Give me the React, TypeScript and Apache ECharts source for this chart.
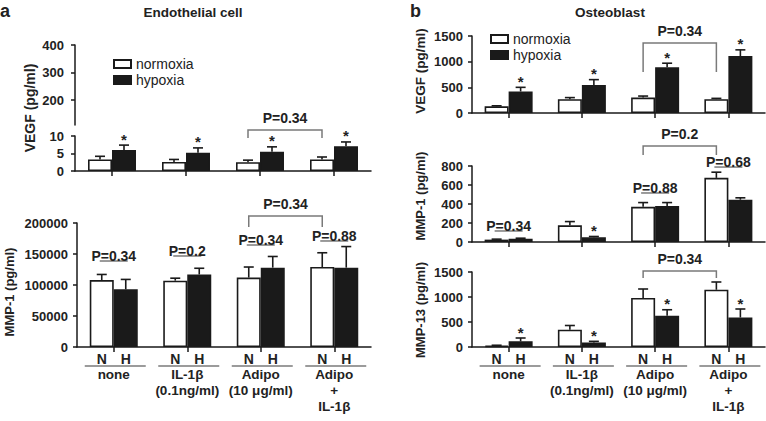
import React, { useEffect, useRef } from 'react';
import * as echarts from 'echarts';

const FONT = "'Liberation Sans', Arial, Helvetica, sans-serif";

const groupLabels = ['none', 'IL-1β\n(0.1ng/ml)', 'Adipo\n(10 μg/ml)', 'Adipo\n+\nIL-1β'];
const conditionLabels = ['N', 'H'];
const seriesNames = ['normoxia', 'hypoxia'];

// Panel a – Endothelial cell
const aVegfUpperTicks = [200, 300, 400];
const aVegfN = [3.3, 2.6, 2.5, 3.3];
const aVegfNErr = [4.2, 3.3, 3.1, 4.0];
const aVegfH = [6.0, 5.2, 5.5, 7.1];
const aVegfHErr = [7.4, 6.6, 6.9, 8.3];
const aVegfStars = [1, 1, 1, 1];
const aVegfBracket = [2, 3, 11.7, 9.4];
const aVegfBracketText = 'P=0.34';

const aMmp1N = [108000, 107000, 112000, 129000];
const aMmp1NErr = [117000, 111000, 129000, 152000];
const aMmp1H = [93000, 117000, 128000, 128000];
const aMmp1HErr = [109000, 127000, 146000, 162000];
const aMmp1Stars = [0, 0, 0, 0];
const aMmp1PGroups = [0, 1, 2, 3];
const aMmp1PLevels = [138700, 146800, 164500, 171000];
const aMmp1PTexts = ['P=0.34', 'P=0.2', 'P=0.34', 'P=0.88'];
const aMmp1Bracket = [2, 3, 211300, 193500];
const aMmp1BracketText = 'P=0.34';

// Panel b – Osteoblast
const bVegfN = [130, 270, 300, 270];
const bVegfNErr = [140, 300, 330, 285];
const bVegfH = [420, 545, 890, 1110];
const bVegfHErr = [500, 650, 970, 1230];
const bVegfStars = [1, 1, 1, 1];
const bVegfBracket = [2, 3, 1364, 800];
const bVegfBracketText = 'P=0.34';

const bMmp1N = [25, 176, 370, 675];
const bMmp1NErr = [30, 215, 415, 735];
const bMmp1H = [35, 50, 380, 445];
const bMmp1HErr = [40, 58, 415, 465];
const bMmp1Stars = [0, 1, 0, 0];
const bMmp1PGroups = [0, 2, 3];
const bMmp1PLevels = [116, 516, 789];
const bMmp1PTexts = ['P=0.34', 'P=0.88', 'P=0.68'];
const bMmp1Bracket = [2, 3, 1010, 916];
const bMmp1BracketText = 'P=0.2';

const bMmp13N = [27, 345, 980, 1145];
const bMmp13NErr = [35, 430, 1160, 1300];
const bMmp13H = [113, 90, 625, 590];
const bMmp13HErr = [180, 113, 745, 760];
const bMmp13Stars = [1, 1, 1, 1];
const bMmp13Bracket = [2, 3, 1520, 1380];
const bMmp13BracketText = 'P=0.34';

const BAR_W = 24;
const HALF = BAR_W / 2;
const INK = '#1a1a1a';
const GREY = '#7a7a7a';
const P_FS = 14;

function barSeries(gi: number, vals: number[], isH: boolean) {
  return {
    type: 'bar',
    name: seriesNames[isH ? 1 : 0],
    xAxisIndex: gi,
    yAxisIndex: gi,
    data: vals,
    barWidth: BAR_W,
    barGap: '0%',
    silent: true,
    itemStyle: { color: isH ? INK : '#fff', borderColor: INK, borderWidth: 1.6 },
  };
}

function errSeries(gi: number, vals: number[], errs: number[], side: number, stars: number[]) {
  return {
    type: 'custom',
    xAxisIndex: gi,
    yAxisIndex: gi,
    silent: true,
    z: 5,
    data: vals.map((v, i) => [i, v, errs[i], stars[i]]),
    renderItem: (params: any, api: any) => {
      const i = api.value(0);
      const top = api.coord([i, api.value(1)]);
      const e = api.coord([i, api.value(2)]);
      const x = top[0] + side * HALF;
      const children: any[] = [
        { type: 'line', shape: { x1: x, y1: top[1], x2: x, y2: e[1] }, style: { stroke: INK, lineWidth: 1.6 } },
        { type: 'line', shape: { x1: x - 5, y1: e[1], x2: x + 5, y2: e[1] }, style: { stroke: INK, lineWidth: 1.6 } },
      ];
      if (api.value(3)) {
        children.push({
          type: 'text',
          x,
          y: e[1] - 6,
          style: { text: '*', font: `bold 15px ${FONT}`, fill: '#222', align: 'center', verticalAlign: 'middle' },
        });
      }
      return { type: 'group', children };
    },
  };
}

function pSeries(gi: number, groups: number[], levels: number[], texts: string[], fs: number) {
  return {
    type: 'custom',
    xAxisIndex: gi,
    yAxisIndex: gi,
    silent: true,
    z: 6,
    data: groups.map((g, k) => [g, levels[k]]),
    renderItem: (params: any, api: any) => {
      const p = api.coord([api.value(0), api.value(1)]);
      return {
        type: 'group',
        children: [
          { type: 'line', shape: { x1: p[0] - 14, y1: p[1], x2: p[0] + 14, y2: p[1] }, style: { stroke: GREY, lineWidth: 1.5 } },
          {
            type: 'text',
            x: p[0],
            y: p[1] - 5,
            style: { text: texts[params.dataIndex], font: `bold ${fs}px ${FONT}`, fill: '#222', align: 'center', verticalAlign: 'middle' },
          },
        ],
      };
    },
  };
}

function bracketSeries(gi: number, br: number[], text: string, fs: number) {
  return {
    type: 'custom',
    xAxisIndex: gi,
    yAxisIndex: gi,
    silent: true,
    z: 6,
    data: [br],
    renderItem: (params: any, api: any) => {
      const p1 = api.coord([api.value(0), api.value(2)]);
      const p2 = api.coord([api.value(1), api.value(2)]);
      const legY = api.coord([api.value(0), api.value(3)])[1];
      const x1 = p1[0] - HALF;
      const x2 = p2[0] - HALF;
      return {
        type: 'group',
        children: [
          {
            type: 'polyline',
            shape: { points: [[x1, legY], [x1, p1[1]], [x2, p1[1]], [x2, legY]] },
            style: { stroke: GREY, lineWidth: 1.5, fill: 'none' },
          },
          {
            type: 'text',
            x: (x1 + x2) / 2,
            y: p1[1] - 12,
            style: { text, font: `bold ${fs}px ${FONT}`, fill: '#222', align: 'center', verticalAlign: 'middle' },
          },
        ],
      };
    },
  };
}

function nhSeries(gi: number) {
  return {
    type: 'custom',
    xAxisIndex: gi,
    yAxisIndex: gi,
    silent: true,
    data: groupLabels.map((_, i) => [i, 0]),
    renderItem: (params: any, api: any) => {
      const p = api.coord([api.value(0), 0]);
      const ts = (t: string, x: number) => ({
        type: 'text',
        x,
        y: p[1] + 12,
        style: { text: t, font: `bold 14px ${FONT}`, fill: '#222', align: 'center', verticalAlign: 'middle' },
      });
      return {
        type: 'group',
        children: [
          ts(conditionLabels[0], p[0] - HALF),
          ts(conditionLabels[1], p[0] + HALF),
          { type: 'line', shape: { x1: p[0] - 29, y1: p[1] + 19, x2: p[0] + 32, y2: p[1] + 19 }, style: { stroke: GREY, lineWidth: 1.3 } },
        ],
      };
    },
  };
}

export default function App() {
  const ref = useRef<HTMLDivElement>(null);
  useEffect(() => {
    const chart = echarts.init(ref.current!, undefined, { renderer: 'svg' });

    const grids = [
      { left: 75, top: 45, width: 296, height: 80 },
      { left: 75, top: 136, width: 296, height: 35 },
      { left: 77, top: 223, width: 294, height: 124 },
      { left: 472, top: 36, width: 293, height: 77 },
      { left: 472, top: 166, width: 293, height: 76 },
      { left: 472, top: 272, width: 293, height: 75 },
    ].map((g) => ({ ...g, outerBoundsMode: 'none', containLabel: false }));

    const axisLine = { show: true, lineStyle: { color: INK, width: 1.5 } };
    const xAxes = grids.map((_, gi) => ({
      type: 'category',
      gridIndex: gi,
      data: groupLabels,
      show: gi !== 0,
      axisLine,
      axisTick: { show: true, alignWithLabel: true, length: 5, lineStyle: { color: INK, width: 1.5 } },
      axisLabel: {
        show: gi === 2 || gi === 5,
        interval: 0,
        margin: 19,
        lineHeight: 16,
        fontSize: 13.5,
        fontWeight: 'bold',
        color: '#222',
        fontFamily: FONT,
      },
      splitLine: { show: false },
    }));

    const yBase = (gi: number, fs: number, margin: number) => ({
      type: 'value',
      gridIndex: gi,
      splitLine: { show: false },
      axisLine,
      axisTick: { show: true, length: 4, lineStyle: { color: INK, width: 1.5 } },
      axisLabel: {
        fontSize: fs,
        fontWeight: 'bold',
        color: '#222',
        fontFamily: FONT,
        margin,
        formatter: (v: number) => String(v),
      },
    });
    const y0: any = yBase(0, 13, 11);
    y0.min = 110;
    y0.max = 400;
    y0.axisLabel.customValues = aVegfUpperTicks;
    y0.axisTick.customValues = aVegfUpperTicks;
    const yAxes = [
      y0,
      { ...yBase(1, 13, 11), min: 0, max: 10, interval: 5 },
      { ...yBase(2, 13, 9), min: 0, max: 200000, interval: 50000 },
      { ...yBase(3, 13, 9), min: 0, max: 1500, interval: 500 },
      { ...yBase(4, 13, 9), min: 0, max: 800, interval: 200 },
      { ...yBase(5, 13, 9), min: 0, max: 1500, interval: 500 },
    ];

    const panels = [
      { gi: 1, n: aVegfN, ne: aVegfNErr, h: aVegfH, he: aVegfHErr, s: aVegfStars },
      { gi: 2, n: aMmp1N, ne: aMmp1NErr, h: aMmp1H, he: aMmp1HErr, s: aMmp1Stars },
      { gi: 3, n: bVegfN, ne: bVegfNErr, h: bVegfH, he: bVegfHErr, s: bVegfStars },
      { gi: 4, n: bMmp1N, ne: bMmp1NErr, h: bMmp1H, he: bMmp1HErr, s: bMmp1Stars },
      { gi: 5, n: bMmp13N, ne: bMmp13NErr, h: bMmp13H, he: bMmp13HErr, s: bMmp13Stars },
    ];
    const series: any[] = [{ type: 'bar', xAxisIndex: 0, yAxisIndex: 0, data: [], silent: true }];
    panels.forEach((p) => {
      series.push(barSeries(p.gi, p.n, false));
      series.push(barSeries(p.gi, p.h, true));
      series.push(errSeries(p.gi, p.n, p.ne, -1, [0, 0, 0, 0]));
      series.push(errSeries(p.gi, p.h, p.he, 1, p.s));
    });
    series.push(pSeries(2, aMmp1PGroups, aMmp1PLevels, aMmp1PTexts, P_FS));
    series.push(pSeries(4, bMmp1PGroups, bMmp1PLevels, bMmp1PTexts, P_FS));
    series.push(bracketSeries(1, aVegfBracket, aVegfBracketText, P_FS));
    series.push(bracketSeries(2, aMmp1Bracket, aMmp1BracketText, P_FS));
    series.push(bracketSeries(3, bVegfBracket, bVegfBracketText, P_FS));
    series.push(bracketSeries(4, bMmp1Bracket, bMmp1BracketText, P_FS));
    series.push(bracketSeries(5, bMmp13Bracket, bMmp13BracketText, P_FS));
    series.push(nhSeries(2));
    series.push(nhSeries(5));

    const legendBase = {
      orient: 'vertical',
      icon: 'rect',
      itemWidth: 17,
      itemHeight: 8,
      itemGap: 2,
      selectedMode: false,
      data: seriesNames,
      textStyle: { fontSize: 14, color: '#222', fontFamily: FONT },
    };

    const yName = (text: string, x: number, y: number, fs: number) => ({
      type: 'text',
      x,
      y,
      rotation: Math.PI / 2,
      style: { text, font: `bold ${fs}px ${FONT}`, fill: '#222', align: 'center', verticalAlign: 'middle' },
    });
    const plain = (text: string, x: number, y: number, fs: number, align = 'center') => ({
      type: 'text',
      x,
      y,
      style: { text, font: `bold ${fs}px ${FONT}`, fill: '#222', align, verticalAlign: 'middle' },
    });

    chart.setOption({
      animation: false,
      backgroundColor: '#fff',
      textStyle: { fontFamily: FONT },
      grid: grids,
      xAxis: xAxes,
      yAxis: yAxes,
      legend: [
        { ...legendBase, left: 108, top: 52 },
        { ...legendBase, left: 485, top: 27 },
      ],
      graphic: [
        plain('a', 0, 11, 18, 'left'),
        plain('b', 410, 11, 18, 'left'),
        plain('Endothelial cell', 193, 12, 13.5),
        plain('Osteoblast', 610, 12, 13.5),
        yName('VEGF (pg/ml)', 30, 108, 14),
        yName('MMP-1 (pg/ml)', 9, 292, 13),
        yName('VEGF (pg/ml)', 420, 71, 13.5),
        yName('MMP-1 (pg/ml)', 420, 196, 13),
        yName('MMP-13 (pg/ml)', 420, 310, 13),
      ],
      series,
    });
    return () => chart.dispose();
  }, []);
  return (
    <div
      ref={ref}
      style={{ position: 'fixed', left: 0, top: 0, width: 766, height: 421, background: '#fff' }}
    />
  );
}
